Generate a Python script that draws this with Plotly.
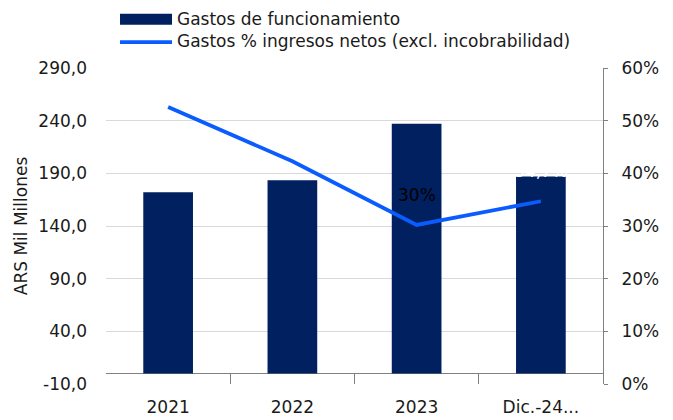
import plotly.graph_objects as go

# ---- data ----
categories = ["2021", "2022", "2023", "Dic.-24..."]
gastos_func = [172.0, 183.5, 237.0, 187.0]          # ARS Mil Millones
gastos_pct = [0.526, 0.423, 0.302, 0.347]           # % ingresos netos
pct_labels = ["", "", "30%", "34,7%"]
pct_label_colors = ["black", "black", "black", "white"]

left_ticks = [-10, 40, 90, 140, 190, 240, 290]
left_tick_labels = ["-10,0", "40,0", "90,0", "140,0", "190,0", "240,0", "290,0"]
right_ticks = [0, 0.1, 0.2, 0.3, 0.4, 0.5, 0.6]

bar_name = "Gastos de funcionamiento"
line_name = "Gastos % ingresos netos (excl. incobrabilidad)"

BAR_COLOR = "#002060"
LINE_COLOR = "#0a5cff"
FONT = "DejaVu Sans"
FS = 17
TXT = "#1a1a1a"

y_range = [left_ticks[0], left_ticks[-1]]
x_range = [-0.5, len(categories) - 0.5]

fig = go.Figure()
fig.add_trace(go.Bar(
    x=categories, y=gastos_func, name=bar_name,
    marker=dict(color=BAR_COLOR, line=dict(width=0)),
    width=0.4, yaxis="y", showlegend=False,
))
fig.add_trace(go.Scatter(
    x=categories, y=gastos_pct, name=line_name, mode="lines",
    line=dict(color=LINE_COLOR, width=3.8), yaxis="y2", showlegend=False,
))

annotations = []
for i, (v, t, col) in enumerate(zip(gastos_pct, pct_labels, pct_label_colors)):
    if t:
        annotations.append(dict(
            x=i, y=v, xref="x", yref="y2", text=t, showarrow=False,
            yshift=30, font=dict(family=FONT, size=FS, color=col),
        ))

# custom legend (wide swatches like the original)
annotations += [
    dict(x=0.1429, y=1.1535, xref="paper", yref="paper", text=bar_name,
         showarrow=False, xanchor="left", yanchor="middle", xshift=-2,
         font=dict(family=FONT, size=FS, color=TXT)),
    dict(x=0.1429, y=1.0839, xref="paper", yref="paper", text=line_name,
         showarrow=False, xanchor="left", yanchor="middle", xshift=-2,
         font=dict(family=FONT, size=FS, color=TXT)),
]
shapes = [
    dict(type="rect", xref="paper", yref="paper", x0=0.0282, x1=0.1328,
         y0=1.1365, y1=1.1715, fillcolor=BAR_COLOR, line=dict(width=0)),
    dict(type="line", xref="paper", yref="paper", x0=0.0282, x1=0.1328,
         y0=1.0819, y1=1.0819, line=dict(color=LINE_COLOR, width=3.8)),
]

# page body has an 8px default margin: figure sized to fit the 673x420 window
fig.update_layout(
    width=665, height=412,
    margin=dict(l=98, r=70, t=60, b=36, autoexpand=False),
    paper_bgcolor="white", plot_bgcolor="white",
    separators=",.",
    font=dict(family=FONT, size=FS, color=TXT),
    annotations=annotations,
    shapes=shapes,
    xaxis=dict(
        type="category", automargin=False, range=x_range,
        showline=False,
        ticks="inside", tickson="boundaries", ticklen=10, tickcolor="#808080",
        showgrid=False, ticklabelstandoff=11, tickangle=0,
    ),
    yaxis=dict(
        range=y_range, tickvals=left_ticks, ticktext=left_tick_labels,
        automargin=False,
        showgrid=True, gridcolor="#d9d9d9", gridwidth=1,
        zeroline=True, zerolinecolor="#808080", zerolinewidth=1,
        showline=False, ticks="",
        ticklabelstandoff=18,
        title=dict(text="ARS Mil Millones", standoff=6,
                   font=dict(family=FONT, size=FS)),
    ),
    yaxis2=dict(
        overlaying="y", side="right", range=[right_ticks[0], right_ticks[-1]],
        tickvals=right_ticks, tickformat=".0%", automargin=False,
        showgrid=False, zeroline=False,
        showline=True, linecolor="#808080", linewidth=1,
        ticks="outside", ticklen=4, tickcolor="#808080",
        ticklabelstandoff=10,
    ),
)

fig.write_html("out.html")
